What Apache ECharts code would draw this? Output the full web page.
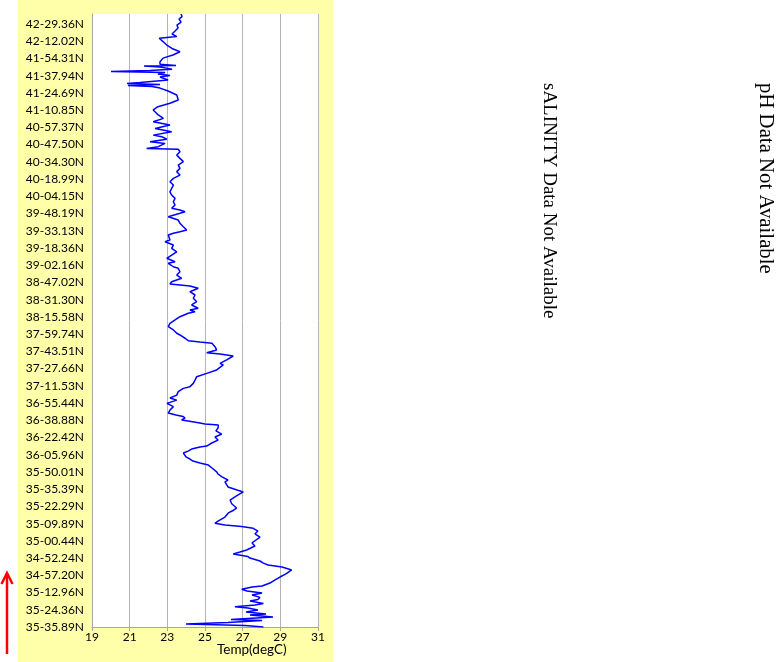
<!DOCTYPE html>
<html>
<head>
<meta charset="utf-8">
<script src="https://cdn.jsdelivr.net/npm/echarts@6/dist/echarts.min.js"></script>
<style>
  html, body { margin: 0; padding: 0; background: #ffffff; }
  #panel { position: absolute; left: 18px; top: 0; width: 315px; height: 662px; background: #ffffaa; }
  #chart { position: absolute; left: 0; top: 0; width: 778px; height: 662px; }
</style>
</head>
<body>
<div id="panel"></div>
<div id="chart"></div>
<script>
// Latitude labels along the track, bottom (start) to top (end)
const latLabels = [
  '35-35.89N','35-24.36N','35-12.96N','34-57.20N','34-52.24N','35-00.44N',
  '35-09.89N','35-22.29N','35-35.39N','35-50.01N','36-05.96N','36-22.42N',
  '36-38.88N','36-55.44N','37-11.53N','37-27.66N','37-43.51N','37-59.74N',
  '38-15.58N','38-31.30N','38-47.02N','39-02.16N','39-18.36N','39-33.13N',
  '39-48.19N','40-04.15N','40-18.99N','40-34.30N','40-47.50N','40-57.37N',
  '41-10.85N','41-24.69N','41-37.94N','41-54.31N','42-12.02N','42-29.36N'
];
const tempTicks = [19, 21, 23, 25, 27, 29, 31];
const trackEnd = 35.58;

// Position along the track (in label steps)
const trackPos = [
  0,0.09,0.17,0.26,0.38,0.44,0.58,0.70,0.75,0.87,0.99,1.10,1.18,1.28,1.36,1.51,1.60,1.72,1.86,1.97,
  2.09,2.19,2.32,2.38,2.55,2.73,2.90,3.08,3.31,3.48,3.60,3.71,3.83,4.00,4.09,4.24,4.35,4.47,4.70,4.88,
  5.05,5.22,5.40,5.57,5.73,5.83,5.92,6.02,6.15,6.38,6.62,6.76,6.91,7.14,7.37,7.60,7.84,7.95,8.13,8.24,
  8.42,8.53,8.71,8.88,9.00,9.23,9.40,9.52,9.63,9.75,9.87,9.98,10.10,10.21,10.33,10.45,10.50,10.68,10.85,11.03,
  11.20,11.38,11.55,11.72,11.78,11.84,11.96,12.02,12.13,12.22,12.30,12.42,12.59,12.79,12.98,13.17,13.29,13.46,13.66,13.85,
  13.95,14.14,14.33,14.53,14.72,14.92,15.03,15.21,15.30,15.50,15.73,15.84,15.92,16.08,16.27,16.47,16.54,16.62,16.76,16.95,
  17.05,17.24,17.43,17.63,17.82,18.01,18.21,18.30,18.40,18.50,18.69,18.88,19.08,19.27,19.46,19.66,19.79,19.91,20.04,20.24,
  20.43,20.62,20.82,20.91,21.11,21.20,21.40,21.59,21.78,21.98,22.17,22.36,22.46,22.56,22.75,22.85,22.94,23.04,23.23,23.43,
  23.62,23.81,24.01,24.10,24.20,24.30,24.49,24.68,24.88,25.07,25.26,25.46,25.65,25.84,26.04,26.23,26.43,26.62,26.81,27.01,
  27.20,27.39,27.59,27.73,27.78,27.88,28.07,28.17,28.31,28.46,28.55,28.75,28.94,29.14,29.33,29.52,29.72,30.01,30.20,30.40,
  30.59,30.88,31.11,31.28,31.37,31.43,31.49,31.54,31.60,31.75,31.92,32.01,32.10,32.18,32.24,32.30,32.38,32.50,32.56,32.59,
  32.67,32.81,33.02,33.20,33.39,33.58,33.78,33.98,34.17,34.27,34.42,34.59,34.77,34.94,35.11,35.29,35.43,35.58
];
// Temperature (degC) at each track position
const temps = [
  28.10,27.12,23.99,26.22,28.03,26.38,28.61,27.39,28.24,27.18,27.81,27.28,26.59,27.65,28.10,27.39,27.81,27.92,27.50,28.03,
  27.23,26.95,27.50,28.03,28.45,28.72,28.98,29.30,29.60,29.09,28.35,28.10,27.92,27.39,27.28,26.50,26.86,27.21,27.65,27.50,
  27.71,27.92,27.65,27.81,27.56,26.95,26.06,25.53,25.69,26.06,26.24,26.49,26.68,26.43,26.33,26.65,27.03,26.70,26.22,26.24,
  26.06,26.22,25.90,25.69,25.62,25.37,25.18,24.73,24.36,24.20,23.99,23.89,23.85,24.10,24.29,24.73,25.09,25.36,25.69,25.53,
  25.89,25.58,25.69,25.71,25.00,24.73,24.10,23.76,23.94,23.83,23.46,23.05,23.14,23.32,22.98,23.50,23.14,23.50,23.58,23.85,
  24.20,24.38,24.47,24.56,25.09,25.62,25.69,25.97,25.80,26.15,26.50,25.80,25.09,25.62,25.53,25.37,24.73,24.11,23.94,23.67,
  23.50,23.32,23.05,23.14,23.41,23.67,24.11,24.47,24.20,24.64,24.29,24.56,24.38,24.47,24.20,24.64,24.20,23.14,23.23,23.76,
  23.50,23.67,23.58,23.32,23.05,23.41,22.97,23.23,23.50,23.23,23.32,22.88,23.14,23.23,23.05,23.32,23.67,24.03,23.85,23.67,
  23.58,23.05,23.67,23.94,23.67,23.23,23.41,23.32,23.41,23.23,23.14,23.23,23.32,23.14,23.32,23.67,23.50,23.67,23.58,23.85,
  23.67,23.50,23.67,23.58,21.90,22.52,22.88,22.08,22.97,22.70,22.25,23.23,22.35,23.14,22.25,22.79,22.52,22.25,22.50,23.14,
  23.58,23.50,23.04,22.61,22.19,20.91,22.61,20.86,21.55,23.04,22.61,23.14,22.50,22.88,20.01,22.08,23.25,22.61,21.76,23.46,
  22.61,22.61,22.77,23.30,23.67,23.25,22.97,22.77,22.57,23.50,23.25,23.41,23.57,23.51,23.73,23.62,23.78,23.73
];

const chart = echarts.init(document.getElementById('chart'), null, { renderer: 'canvas' });
const lineData = temps.map((t, i) => [t, trackPos[i]]);

chart.setOption({
  animation: false,
  backgroundColor: 'transparent',
  grid: {
    left: 92, right: 460, top: 14, bottom: 35,
    show: true, backgroundColor: '#ffffff', borderWidth: 0
  },
  xAxis: {
    type: 'value',
    min: tempTicks[0], max: tempTicks[tempTicks.length - 1], interval: 2,
    axisLine: { show: true, lineStyle: { color: '#a6a6a6', width: 1 } },
    axisTick: { show: true, length: 4, lineStyle: { color: '#a6a6a6' } },
    splitLine: { show: true, lineStyle: { color: '#b4b4b4', width: 1 } },
    axisLabel: { color: '#000', fontFamily: 'Lato', fontSize: 12, margin: 4 }
  },
  yAxis: {
    type: 'value',
    min: 0, max: trackEnd, interval: 1,
    axisLine: { show: true, lineStyle: { color: '#a6a6a6', width: 1 } },
    axisTick: { show: false },
    splitLine: { show: false },
    axisLabel: {
      color: '#000', fontFamily: 'Lato', fontSize: 12, margin: 8,
      formatter: function (v) {
        const i = Math.round(v);
        return (Math.abs(v - i) < 1e-6 && latLabels[i]) ? latLabels[i] : '';
      }
    }
  },
  graphic: [
    { type: 'text', left: 217, top: 643,
      style: { text: 'Temp(degC)', fontFamily: 'Lato', fontSize: 13.5, fill: '#000' } },
    { type: 'text', x: 549, y: 83, rotation: -Math.PI / 2,
      style: { text: 'sALINITY Data Not Available', fontFamily: 'Liberation Serif', fontSize: 19,
               fill: '#000', textAlign: 'left', textVerticalAlign: 'middle' } },
    { type: 'text', x: 765, y: 83, rotation: -Math.PI / 2,
      style: { text: 'pH Data Not Available', fontFamily: 'Liberation Serif', fontSize: 20.8,
               fill: '#000', textAlign: 'left', textVerticalAlign: 'middle' } },
    { type: 'line', shape: { x1: 7, y1: 654, x2: 7, y2: 575 },
      style: { stroke: '#ff0000', lineWidth: 2.5 } },
    { type: 'polyline', shape: { points: [[1.5, 584], [7, 573], [12.5, 584]] },
      style: { stroke: '#ff0000', lineWidth: 2.5, fill: null } }
  ],
  series: [{
    type: 'line',
    data: lineData,
    showSymbol: false,
    symbol: 'none',
    smooth: false,
    lineStyle: { color: '#0000ff', width: 1.5 }
  }]
});
</script>
</body>
</html>
